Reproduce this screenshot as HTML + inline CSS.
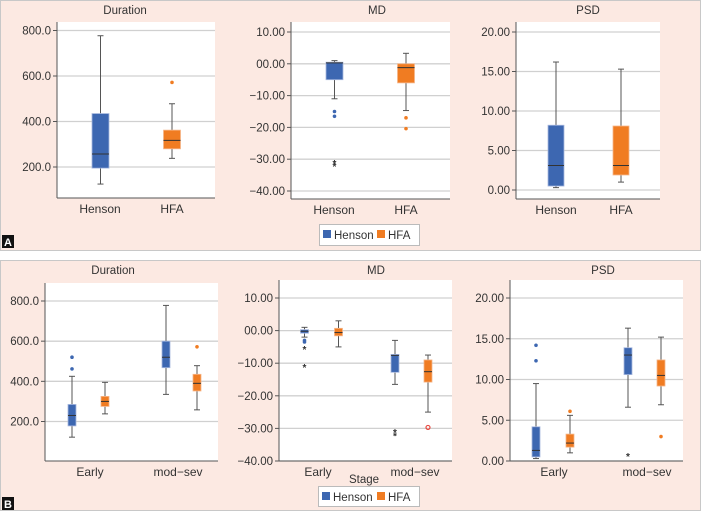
<!DOCTYPE html>
<html><head><meta charset="utf-8">
<style>
body{margin:0;background:#fff;width:701px;height:512px;overflow:hidden;font-family:"Liberation Sans",sans-serif}
svg{display:block}
</style></head>
<body>
<svg id="c" width="701" height="512" xmlns="http://www.w3.org/2000/svg" font-family="Liberation Sans, sans-serif">
<rect x="0.5" y="0.5" width="700" height="250" fill="#fce9e2" stroke="#c8c8c8"/>
<rect x="0.5" y="260.5" width="700" height="250" fill="#fce9e2" stroke="#c8c8c8"/>
<rect x="2" y="235" width="12" height="13" fill="#111"/>
<text x="8" y="246" font-size="11" font-weight="bold" fill="#fff" text-anchor="middle">A</text>
<rect x="2" y="497" width="12" height="13" fill="#111"/>
<text x="8" y="508" font-size="11" font-weight="bold" fill="#fff" text-anchor="middle">B</text>
<g>
<rect x="319.5" y="224.5" width="100" height="21" fill="#fff" stroke="#bbb"/>
<rect x="323" y="230" width="8" height="8" fill="#3d67b1"/>
<text x="334" y="239" font-size="11.5" fill="#333">Henson</text>
<rect x="377" y="230" width="8" height="8" fill="#f07c22"/>
<text x="388" y="239" font-size="11.5" fill="#333">HFA</text>
</g>
<g>
<rect x="318.5" y="486.5" width="101" height="20" fill="#fff" stroke="#bbb"/>
<rect x="322" y="492" width="8" height="8" fill="#3d67b1"/>
<text x="333" y="501" font-size="11.5" fill="#333">Henson</text>
<rect x="377" y="492" width="8" height="8" fill="#f07c22"/>
<text x="388" y="501" font-size="11.5" fill="#333">HFA</text>
</g>
<text x="364" y="483" font-size="11.5" fill="#333" text-anchor="middle">Stage</text>
</svg>
<script>
// Stats arrays: [min, Q1, median, Q3, max]
const aDurCats = ["Henson","HFA"];
const aDurStats = [[125,195,257,435,777],[238,280,317,362,478]];
const aDurOut = [[],[572]];
const aDurStars = [[],[]];
const aDurTicks = [200,400,600,800];

const aMdCats = ["Henson","HFA"];
const aMdStats = [[-11,-5,0.3,0.5,1],[-14.7,-6,-1.2,0,3.3]];
const aMdOut = [[-15,-16.5],[-17,-20.4]];
const aMdStars = [[-31,-32],[]];
const aMdTicks = [10,0,-10,-20,-30,-40];

const aPsdCats = ["Henson","HFA"];
const aPsdStats = [[0.3,0.5,3.1,8.2,16.2],[1.0,1.9,3.1,8.1,15.3]];
const aPsdOut = [[],[]];
const aPsdStars = [[],[]];
const aPsdTicks = [0,5,10,15,20];

const stageCats = ["Early","mod\u2212sev"];
// B panels: order Early-Henson, Early-HFA, mod-Henson, mod-HFA
const bDurStats = [[122,178,230,285,425],[238,275,300,325,395],[335,468,520,600,778],[258,352,390,435,478]];
const bDurOut = [[520,462],[],[],[572]];
const bDurStars = [[],[],[],[]];
const bDurTicks = [200,400,600,800];

const bMdStats = [[-2,-0.8,-0.2,0.3,1],[-5,-1.6,-0.6,0.7,3],[-16.5,-12.8,-7.6,-7.3,-3],[-25,-15.8,-12.6,-9,-7.5]];
const bMdOut = [[-3,-3.5],[],[],[]];
const bMdStars = [[-5.5,-11],[],[-31,-32],[]];
const bMdRings = [[],[],[],[-29.7]];
const bMdTicks = [10,0,-10,-20,-30,-40];

const bPsdStats = [[0.3,0.5,1.3,4.2,9.5],[1.0,1.7,2.2,3.3,5.6],[6.6,10.6,13.0,13.9,16.3],[6.9,9.2,10.5,12.4,15.2]];
const bPsdOut = [[14.2,12.3],[6.1],[],[3.0]];
const bPsdStars = [[],[],[0.7],[]];
const bPsdTicks = [0,5,10,15,20];

const svg=document.getElementById('c');
const NS='http://www.w3.org/2000/svg';
const BLUE='#3d67b1', ORANGE='#f07c22';
function el(tag,attrs,parent){const e=document.createElementNS(NS,tag);for(const k in attrs)e.setAttribute(k,attrs[k]);(parent||svg).appendChild(e);return e;}

function chart(cfg){
  const g=el('g',{});
  
  
  const y=v=>cfg.y0+(v-cfg.v0)*(cfg.y1-cfg.y0)/(cfg.v1-cfg.v0);
  const bg=el('rect',{x:cfg.left,y:cfg.top,width:cfg.right-cfg.left,height:cfg.bottom-cfg.top,fill:'#fff'},g);
  
  
  cfg.ticks.forEach(t=>{
    const yy=y(t);
    const gl=el('line',{x1:cfg.left,x2:cfg.right,y1:yy,y2:yy,stroke:'#d0d0d0','stroke-width':1.3},g);
    
    
    el('line',{x1:cfg.left-4,x2:cfg.left,y1:yy,y2:yy,stroke:'#555'},g);
    const tx=el('text',{x:cfg.left-6,y:yy+4,'font-size':11.5,fill:'#333','text-anchor':'end'},g);
    tx.textContent=cfg.fmt(t);
    
    
  });
  el('line',{x1:cfg.left,x2:cfg.left,y1:cfg.top,y2:cfg.bottom,stroke:'#555'},g);
  el('line',{x1:cfg.left,x2:cfg.right,y1:cfg.bottom,y2:cfg.bottom,stroke:'#555'},g);
  const tt=el('text',{x:cfg.titleX,y:cfg.titleY,'font-size':11.5,fill:'#333','text-anchor':'middle'},g);
  tt.textContent=cfg.title;
  
  
  cfg.cats.forEach((c,i)=>{
    const t=el('text',{x:cfg.catX[i],y:cfg.bottom+15,'font-size':12,fill:'#333','text-anchor':'middle'},g);
    t.textContent=c;
    
    
  });
  cfg.stats.forEach((s,i)=>{
    const cx=cfg.boxX[i], w=cfg.boxW, col=cfg.colors[i];
    const bx=el('g',{},g);
    
    
    el('line',{x1:cx,x2:cx,y1:y(s[4]),y2:y(s[0]),stroke:'#555'},bx);
    el('line',{x1:cx-3,x2:cx+3,y1:y(s[4]),y2:y(s[4]),stroke:'#555'},bx);
    el('line',{x1:cx-3,x2:cx+3,y1:y(s[0]),y2:y(s[0]),stroke:'#555'},bx);
    const t3=y(s[3]),t1=y(s[1]);
    el('rect',{x:cx-w/2,y:Math.min(t3,t1),width:w,height:Math.max(1.5,Math.abs(t1-t3)),fill:col,stroke:col==BLUE?'#a9b9df':'#f6b68a','stroke-width':0.8},bx);
    el('line',{x1:cx-w/2,x2:cx+w/2,y1:y(s[2]),y2:y(s[2]),stroke:'#333'},bx);
    (cfg.out[i]||[]).forEach(v=>{
      const c=el('circle',{cx:cx,cy:y(v),r:1.8,fill:col},bx);
      
      
    });
    ((cfg.rings||[])[i]||[]).forEach(v=>{
      const c=el('circle',{cx:cx,cy:y(v),r:2,fill:'none',stroke:'#e8453c','stroke-width':1.2},bx);
      
      
    });
    (cfg.stars[i]||[]).forEach(v=>{
      const t=el('text',{x:cx,y:y(v)+4.5,'font-size':10,'font-weight':'bold',fill:'#333','text-anchor':'middle'},bx);
      t.textContent='*';
      
      
    });
  });
}
const f1=v=>v.toFixed(1);
const fmd=v=>v<0?'\u2212'+Math.abs(v).toFixed(2):(v===0?'00.00':v.toFixed(2));
const fpsd=v=>v.toFixed(2);
const AB=[BLUE,ORANGE], BB=[BLUE,ORANGE,BLUE,ORANGE];

chart({name:'chart-a-duration',title:'Duration',titleX:125,titleY:14,left:57,right:215,top:22,bottom:198,v0:800,y0:30.5,v1:200,y1:167,ticks:aDurTicks,fmt:f1,cats:aDurCats,catX:[100,172],boxX:[100.5,172],boxW:17,stats:aDurStats,out:aDurOut,stars:aDurStars,colors:AB});
chart({name:'chart-a-md',title:'MD',titleX:377,titleY:14,left:291,right:450,top:22,bottom:199,v0:10,y0:32,v1:-40,y1:191,ticks:aMdTicks,fmt:fmd,cats:aMdCats,catX:[334,406],boxX:[334.5,406],boxW:17,stats:aMdStats,out:aMdOut,stars:aMdStars,colors:AB});
chart({name:'chart-a-psd',title:'PSD',titleX:588,titleY:14,left:516,right:660,top:22,bottom:199,v0:20,y0:32,v1:0,y1:190,ticks:aPsdTicks,fmt:fpsd,cats:aPsdCats,catX:[556,621],boxX:[556,621],boxW:16,stats:aPsdStats,out:aPsdOut,stars:aPsdStars,colors:AB});

chart({name:'chart-b-duration',title:'Duration',titleX:113,titleY:274,left:45,right:218,top:283,bottom:461,v0:800,y0:301,v1:200,y1:421.5,ticks:bDurTicks,fmt:f1,cats:stageCats,catX:[90,178],boxX:[72,105,166,197],boxW:8,stats:bDurStats,out:bDurOut,stars:bDurStars,colors:BB});
chart({name:'chart-b-md',title:'MD',titleX:376,titleY:274,left:279,right:452,top:280,bottom:461,v0:10,y0:298,v1:-40,y1:461,ticks:bMdTicks,fmt:fmd,cats:stageCats,catX:[318,415],boxX:[304.5,338.5,395,428],boxW:8,stats:bMdStats,out:bMdOut,stars:bMdStars,rings:bMdRings,colors:BB});
chart({name:'chart-b-psd',title:'PSD',titleX:603,titleY:274,left:510,right:683,top:280,bottom:461,v0:20,y0:298,v1:0,y1:461,ticks:bPsdTicks,fmt:fpsd,cats:stageCats,catX:[554,647],boxX:[536,570,628,661],boxW:8,stats:bPsdStats,out:bPsdOut,stars:bPsdStars,colors:BB});
</script>
</body></html>
